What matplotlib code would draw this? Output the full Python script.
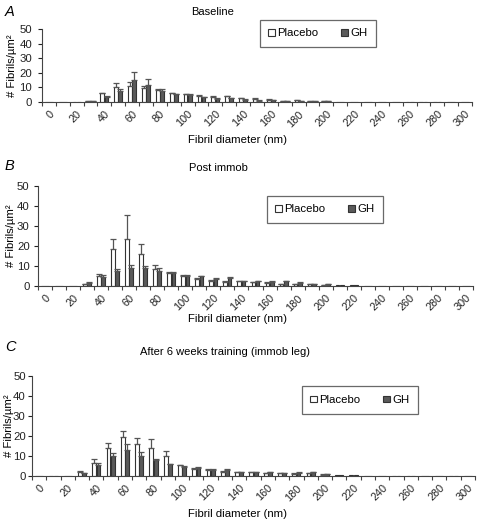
import matplotlib
matplotlib.use("Agg")
import matplotlib.pyplot as plt
import numpy as np

plt.rcParams['font.family'] = ['Liberation Sans', 'DejaVu Sans']

categories = list(range(0, 310, 10))  # 0..300 nm
tick_labels = [str(c) if c % 20 == 0 else "" for c in categories]

# Panel A: Baseline
a_placebo = [0, 0, 0, 0.7, 6.0, 10.0, 11.2, 9.8, 8.0, 6.0, 5.2, 4.2, 3.5, 4.0, 2.7, 2.3, 1.7, 0.9, 1.2, 0.5, 0.4, 0.3, 0.3, 0.2, 0.2, 0.2, 0, 0, 0, 0, 0]
a_gh      = [0, 0, 0, 0.4, 3.4, 7.6, 14.8, 11.8, 7.6, 5.4, 4.8, 3.2, 2.2, 2.5, 1.7, 1.0, 1.2, 0.7, 0.8, 0.7, 0.4, 0.3, 0.3, 0.2, 0.0, 0.1, 0, 0, 0, 0, 0]
a_placebo_err = [0, 0, 0, 0.2, 0.5, 3.2, 2.5, 1.0, 1.0, 0.4, 0.4, 0.3, 0.4, 0.4, 0.3, 0.3, 0.2, 0.1, 0.2, 0.1, 0.1, 0, 0, 0, 0, 0, 0, 0, 0, 0, 0]
a_gh_err      = [0, 0, 0, 0.1, 0.5, 1.0, 5.8, 3.8, 1.4, 0.4, 0.4, 0.3, 0.3, 0.3, 0.3, 0.2, 0.2, 0.1, 0.1, 0.1, 0.1, 0, 0, 0, 0, 0, 0, 0, 0, 0, 0]

# Panel B: Post immob
b_placebo = [0, 0, 0.2, 0.8, 5.0, 18.3, 23.6, 16.0, 8.5, 6.5, 5.2, 3.5, 2.5, 2.0, 2.3, 1.8, 1.5, 1.0, 0.8, 0.8, 0.5, 0.3, 0.3, 0.2, 0.2, 0.2, 0, 0, 0, 0, 0]
b_gh      = [0, 0, 0.2, 1.6, 4.6, 7.3, 9.2, 9.2, 7.7, 6.3, 5.0, 4.8, 3.5, 4.2, 2.3, 2.3, 2.2, 2.3, 1.5, 0.8, 0.8, 0.5, 0.5, 0.2, 0.0, 0.0, 0, 0, 0, 0, 0]
b_placebo_err = [0, 0, 0, 0.2, 1.2, 5.0, 11.8, 5.0, 2.0, 0.4, 0.3, 0.5, 0.4, 0.3, 0.2, 0.3, 0.3, 0.2, 0.2, 0.1, 0.1, 0, 0, 0, 0, 0, 0, 0, 0, 0, 0]
b_gh_err      = [0, 0, 0, 0.2, 1.0, 1.0, 1.3, 1.0, 1.3, 0.5, 0.3, 0.3, 0.3, 0.3, 0.2, 0.2, 0.3, 0.2, 0.3, 0.1, 0.1, 0, 0, 0, 0, 0, 0, 0, 0, 0, 0]

# Panel C: After 6 weeks training (immob leg)
c_placebo = [0, 0, 0.2, 2.0, 6.7, 14.0, 19.3, 16.0, 14.0, 9.8, 5.3, 3.5, 3.2, 2.2, 1.8, 2.0, 1.5, 1.5, 1.2, 1.5, 0.7, 0.3, 0.3, 0.2, 0, 0, 0, 0, 0, 0, 0]
c_gh      = [0, 0, 0.2, 1.3, 5.3, 10.2, 13.0, 10.2, 7.8, 5.8, 4.5, 3.8, 3.0, 3.0, 2.0, 1.8, 2.0, 1.5, 1.7, 2.0, 1.0, 0.5, 0.3, 0.0, 0, 0, 0, 0, 0, 0, 0]
c_placebo_err = [0, 0, 0, 0.3, 1.7, 2.7, 3.3, 3.0, 4.6, 2.7, 0.3, 0.5, 0.3, 0.3, 0.2, 0.2, 0.2, 0.2, 0.2, 0.2, 0.1, 0, 0, 0, 0, 0, 0, 0, 0, 0, 0]
c_gh_err      = [0, 0, 0, 0.2, 1.0, 1.2, 2.8, 1.6, 0.6, 0.3, 0.5, 0.5, 0.3, 0.3, 0.2, 0.2, 0.2, 0.2, 0.2, 0.2, 0.2, 0, 0, 0, 0, 0, 0, 0, 0, 0, 0]

W, H = 480.0, 520.0
panels = [
    dict(letter="A", title="Baseline", p=a_placebo, g=a_gh, pe=a_placebo_err, ge=a_gh_err,
         px=(42, 29, 430, 73), leg=(318, 33.5), title_xy=(213, 12), letter_xy=(5, 12), xlab_y=140,
         ypad=4, ylab_x=17),
    dict(letter="B", title="Post immob", p=b_placebo, g=b_gh, pe=b_placebo_err, ge=b_gh_err,
         px=(38, 186, 435, 100), leg=(325, 209.5), title_xy=(218, 168), letter_xy=(5, 166), xlab_y=319,
         ypad=3, ylab_x=16),
    dict(letter="C", title="After 6 weeks training (immob leg)", p=c_placebo, g=c_gh, pe=c_placebo_err, ge=c_gh_err,
         px=(32, 376, 443, 100), leg=(360, 400), title_xy=(225, 352), letter_xy=(5, 347), xlab_y=514,
         ypad=1.5, ylab_x=14),
]

fig = plt.figure(figsize=(4.8, 5.2), dpi=100)
x = np.arange(len(categories))
bw = 0.27
edge = '#333333'
for pn in panels:
    l, t, w, h = pn['px']
    ax = fig.add_axes([l / W, 1 - (t + h) / H, w / W, h / H])
    p = np.array(pn['p']); g = np.array(pn['g'])
    pe = np.array(pn['pe']); ge = np.array(pn['ge'])
    ax.bar(x - 0.15, p, width=bw, color='white', edgecolor=edge, linewidth=0.8, label='Placebo', zorder=2)
    ax.bar(x + 0.15, g, width=bw, color='#5a5a5a', edgecolor=edge, linewidth=0.8, label='GH', zorder=2)
    mp = pe > 0
    ax.errorbar(x[mp] - 0.15, p[mp], yerr=[np.zeros(mp.sum()), pe[mp]], fmt='none',
                ecolor='#555555', elinewidth=0.9, capsize=2, capthick=0.9, zorder=3)
    mg = ge > 0
    ax.errorbar(x[mg] + 0.15, g[mg], yerr=[np.zeros(mg.sum()), ge[mg]], fmt='none',
                ecolor='#555555', elinewidth=0.9, capsize=2, capthick=0.9, zorder=3)
    ax.set_xlim(-0.5, len(categories) - 0.5)
    ax.set_ylim(0, 50)
    ax.set_yticks([0, 10, 20, 30, 40, 50])
    ax.tick_params(axis='y', labelsize=8.2, length=3, width=0.8, colors='#222222', pad=pn['ypad'])
    ax.set_xticks(x[::2])
    ax.set_xticklabels([tick_labels[i] for i in range(0, len(categories), 2)],
                       rotation=45, ha='right', va='top', rotation_mode='anchor', fontsize=7.8)
    ax.set_xticks(np.arange(-0.5, len(categories), 1), minor=True)
    ax.tick_params(axis='x', which='major', length=0, pad=5, colors='#222222')
    ax.tick_params(axis='x', which='minor', length=3, width=0.8, color='#444444')
    for s in ['top', 'right']:
        ax.spines[s].set_visible(False)
    for s in ['left', 'bottom']:
        ax.spines[s].set_color('#444444')
        ax.spines[s].set_linewidth(0.8)
    ax.set_ylabel("# Fibrils/\u00b5m\u00b2", fontsize=8.2)
    ax.yaxis.set_label_coords((pn['ylab_x'] - l) / w, 0.5)
    leg = ax.legend(loc='center', bbox_to_anchor=(pn['leg'][0] / W, 1 - pn['leg'][1] / H),
                    bbox_transform=fig.transFigure,
                    ncol=2, fontsize=8.2, frameon=True, fancybox=False, borderpad=0.75,
                    handlelength=0.55, handleheight=0.55, handletextpad=0.25, columnspacing=2.0)
    leg.get_frame().set_edgecolor('#444444')
    leg.get_frame().set_linewidth(0.9)
    fig.text(pn['title_xy'][0] / W, 1 - pn['title_xy'][1] / H, pn['title'], ha='center', va='center', fontsize=8)
    fig.text(pn['letter_xy'][0] / W, 1 - pn['letter_xy'][1] / H, pn['letter'], ha='left', va='center',
             fontsize=10.5, style='italic')
    fig.text(237 / W, 1 - pn['xlab_y'] / H, "Fibril diameter (nm)", ha='center', va='center', fontsize=8.2)

fig.savefig("out.png", dpi=100, facecolor='white')
